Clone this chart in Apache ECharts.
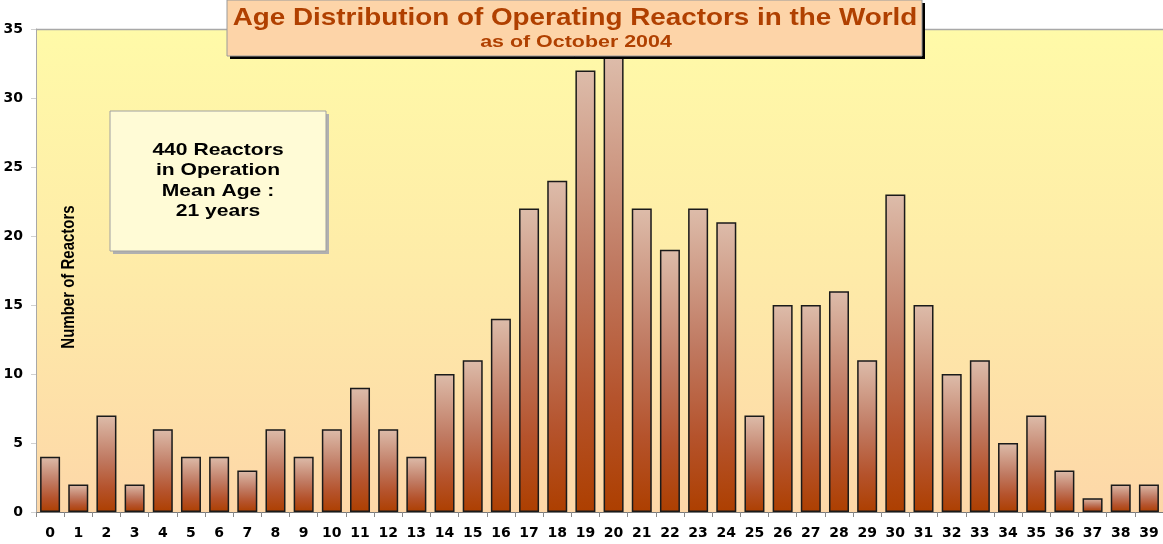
<!DOCTYPE html>
<html>
<head>
<meta charset="utf-8">
<script src="https://cdn.jsdelivr.net/npm/echarts@6/dist/echarts.min.js"></script>
<style>
  html, body { margin: 0; padding: 0; background: #fff; }
  #container { width: 1163px; height: 544px; }
</style>
</head>
<body>
<div id="container"></div>
<script>
var ages = ['0','1','2','3','4','5','6','7','8','9','10','11','12','13','14','15','16','17','18','19',
            '20','21','22','23','24','25','26','27','28','29','30','31','32','33','34','35','36','37','38','39'];
var reactors = [4, 2, 7, 2, 6, 4, 4, 3, 6, 4, 6, 9, 6, 4, 10, 11, 14, 22, 24, 32,
                33, 22, 19, 22, 21, 7, 15, 15, 16, 11, 23, 15, 10, 11, 5, 7, 3, 1, 2, 2];
var titleText = 'Age Distribution of Operating Reactors in the World';
var subText = 'as of October 2004';
var yName = 'Number of Reactors';
var noteLines = ['440 Reactors', 'in Operation', 'Mean Age :', '21 years'];

var dom = document.getElementById('container');
var myChart = echarts.init(dom);

var barColor = new echarts.graphic.LinearGradient(0, 0, 0, 1, [
    {offset: 0, color: '#ddbcaa'},
    {offset: 0.45, color: '#c07a62'},
    {offset: 0.75, color: '#b5532c'},
    {offset: 1, color: '#ad3f00'}
]);

// the original slide is stretched sideways, so the texts are too
var stretch = 1.2;

var option = {
    backgroundColor: '#ffffff',
    animation: false,
    grid: {
        left: 36,
        right: 0,
        top: 29,
        bottom: 32,
        show: true,
        borderWidth: 0,
        backgroundColor: new echarts.graphic.LinearGradient(0, 0, 0, 1, [
            {offset: 0, color: '#fffaa8'},
            {offset: 0.5, color: '#feeba8'},
            {offset: 1, color: '#fdd7a8'}
        ])
    },
    xAxis: {
        type: 'category',
        data: ages,
        axisLine: {lineStyle: {color: '#7a7a7a', width: 1}},
        axisTick: {show: true, length: 5, alignWithLabel: false, lineStyle: {color: '#8a8a8a'}},
        axisLabel: {
            color: '#000',
            fontFamily: 'DejaVu Sans, sans-serif',
            fontWeight: 'bold',
            fontSize: 14,
            margin: 14,
            interval: 0
        }
    },
    yAxis: {
        type: 'value',
        min: 0,
        max: 35,
        interval: 5,
        axisLine: {show: true, lineStyle: {color: '#a8a8a8'}},
        axisTick: {show: true, length: 5, lineStyle: {color: '#d0d0d0'}},
        splitLine: {show: false},
        axisLabel: {
            color: '#000',
            fontFamily: 'DejaVu Sans, sans-serif',
            fontWeight: 'bold',
            fontSize: 14,
            margin: 13
        }
    },
    series: [{
        type: 'bar',
        data: reactors,
        barCategoryGap: '29%',
        itemStyle: {
            color: barColor,
            borderColor: '#1a1a1a',
            borderWidth: 1.5
        },
        z: 2
    }],
    graphic: [
        // top border of plot area
        {type: 'line', z: 1, shape: {x1: 36, y1: 29.5, x2: 1163, y2: 29.5},
         style: {stroke: '#a8a8a8', lineWidth: 1.5}},
        // y axis name
        {type: 'text', z: 5, x: 69, y: 277, rotation: Math.PI / 2, scaleY: stretch,
         style: {text: yName, textAlign: 'center', textVerticalAlign: 'middle', fill: '#000',
                 font: 'bold 15px "Liberation Sans Narrow", "Liberation Sans", Arial, sans-serif'}},
        // title box
        {type: 'rect', z: 10, shape: {x: 230, y: 3, width: 695, height: 56},
         style: {fill: '#000'}},
        {type: 'rect', z: 11, shape: {x: 227, y: 0, width: 695, height: 56},
         style: {fill: '#fdd4a8', stroke: '#9a9a9a', lineWidth: 1}},
        {type: 'text', z: 12, x: 575, y: 6, scaleX: 1.16,
         style: {text: titleText, textAlign: 'center', textVerticalAlign: 'top', fill: '#b04000',
                 font: 'bold 24px "Liberation Sans", Arial, sans-serif'}},
        {type: 'text', z: 12, x: 576, y: 34, scaleX: 1.26,
         style: {text: subText, textAlign: 'center', textVerticalAlign: 'top', fill: '#b04000',
                 font: 'bold 17px "Liberation Sans", Arial, sans-serif'}},
        // note box
        {type: 'rect', z: 10, shape: {x: 113, y: 114, width: 216, height: 140},
         style: {fill: '#b0b0b0'}},
        {type: 'rect', z: 11, shape: {x: 110, y: 111, width: 216, height: 140},
         style: {fill: '#fffbd6', stroke: '#a0a0a0', lineWidth: 1}},
        {type: 'text', z: 12, x: 218, y: 140, scaleX: 1.24,
         style: {text: noteLines.join('\n'), textAlign: 'center', textVerticalAlign: 'top',
                 fill: '#000', lineHeight: 20.5,
                 font: 'bold 17px "Liberation Sans", Arial, sans-serif'}}
    ]
};

myChart.setOption(option);
</script>
</body>
</html>
